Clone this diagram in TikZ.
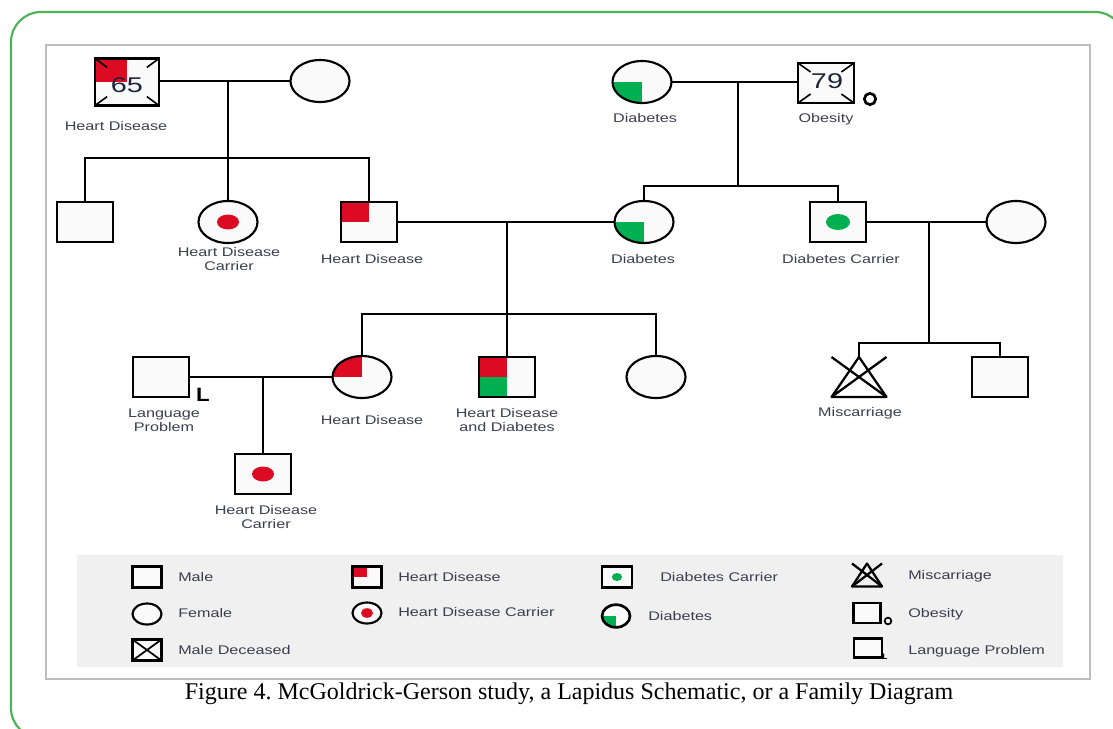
\documentclass[tikz,border=0pt]{standalone}
\usepackage{graphicx}
\usepackage{fontspec}
\setmainfont{Liberation Serif}
\newfontfamily\labsans{Liberation Sans}
\usetikzlibrary{shapes.geometric,calc}
\frenchspacing
\definecolor{hdred}{RGB}{220,10,35}
\definecolor{dbgreen}{RGB}{0,176,80}
\definecolor{labgray}{RGB}{58,62,78}
\definecolor{framegreen}{RGB}{76,178,88}
\definecolor{boxgray}{RGB}{190,190,190}
\definecolor{leggray}{RGB}{240,240,240}
\definecolor{shapefill}{RGB}{250,250,250}
\definecolor{numcol}{RGB}{30,35,60}
\newcommand{\lbl}[1]{\scalebox{1.29}[1]{\labsans\fontsize{9.4}{10.5}\selectfont\begin{tabular}{@{}c@{}}#1\end{tabular}}}
\newcommand{\numtext}[1]{\scalebox{1.35}[1]{\labsans\fontsize{16}{16}\selectfont #1}}
\begin{document}
\begin{tikzpicture}[x=0.75pt,y=-0.75pt,
  pline/.style={line width=1.7pt, black},
  male/.style={rectangle, draw, line width=1.6pt, fill=shapefill, minimum width=42pt, minimum height=30pt, inner sep=0pt, outer sep=0pt},
  female/.style={ellipse, draw, line width=1.6pt, fill=shapefill, minimum width=44.25pt, minimum height=31.5pt, inner sep=0pt, outer sep=0pt},
  lmale/.style={male, minimum width=21.75pt, minimum height=15.75pt},
  lfemale/.style={female, minimum width=21.75pt, minimum height=15.75pt},
  hd/.style={path picture={\fill[hdred] (path picture bounding box.north west) rectangle (path picture bounding box.center);}},
  db/.style={path picture={\fill[dbgreen] (path picture bounding box.south west) rectangle (path picture bounding box.center);}},
  hddb/.style={path picture={\fill[hdred] (path picture bounding box.north west) rectangle (path picture bounding box.center);
     \fill[dbgreen] (path picture bounding box.south west) rectangle (path picture bounding box.center);}},
  hdcar/.style 2 args={path picture={\fill[hdred] (path picture bounding box.center) ellipse [x radius=#1, y radius=#2];}},
  dbcar/.style 2 args={path picture={\fill[dbgreen] (path picture bounding box.center) ellipse [x radius=#1, y radius=#2];}},
  lab/.style={text=labgray, inner sep=0pt, align=center, yshift=-1.5pt},
  llab/.style={text=labgray, inner sep=0pt, anchor=west, yshift=-1.5pt},
  num/.style={text=numcol, inner sep=0pt},
  misc/.style={rectangle, inner sep=0pt, outer sep=0pt, minimum width=41.25pt, minimum height=30pt}
]
\useasboundingbox (0,0) rectangle (1113,728);
\clip (0,0) rectangle (1113,728);
% frames
\draw[framegreen, line width=1.6pt, rounded corners=22.5pt] (11,12) rectangle (1125,738);
\draw[boxgray, line width=0.8pt] (46,45) rectangle (1090,679);
\fill[leggray] (77,555) rectangle (1063,667);

% ---------- generation 1, left ----------
\node[male, hd, minimum width=48pt, minimum height=35.25pt] (gf) at (127,82) {};
\foreach \c in {north west,north east,south west,south east}
  \draw[line width=1.2pt] (gf.\c) -- ($(gf.\c)!0.38!(gf.center)$);
\node[num] (gfage) at (127,85) {\numtext{65}};
\node[female] (gm) at (320,81) {};
\node[lab] (lgf) at (116,126) {\lbl{Heart Disease}};
\draw[pline] (gf.east |- gm.west) -- (gm.west);
\coordinate (m1) at (228,81);
\coordinate (s1) at (228,158);

% ---------- generation 1, right ----------
\node[female, db] (gm2) at (642,82) {};
\node[male] (gf2) at (826,83) {};
\foreach \c in {north west,north east,south west,south east}
  \draw[line width=1.2pt] (gf2.\c) -- ($(gf2.\c)!0.45!(gf2.center)$);
\node[num] (gf2age) at (827,81) {\numtext{79}};
\node[circle, draw, line width=2pt, minimum size=8.5pt, inner sep=0pt] (obs) at (870,99) {};
\node[lab] (lgm2) at (645,118) {\lbl{Diabetes}};
\node[lab] (lgf2) at (826,118) {\lbl{Obesity}};
\draw[pline] (gm2.east) -- (gf2.west |- gm2.east);
\coordinate (m2) at (738,82);
\coordinate (s2) at (738,186);

% ---------- generation 2 ----------
\node[male] (a1) at (85,222) {};
\node[female, hdcar={8.25pt}{5.6pt}] (a2) at (228,222) {};
\node[male, hd] (a3) at (369,222) {};
\node[female, db] (a4) at (644,222) {};
\node[male, dbcar={9pt}{6pt}] (a5) at (838,222) {};
\node[female] (a6) at (1016,222) {};
\node[lab] (la2) at (229,259) {\lbl{Heart Disease\\Carrier}};
\node[lab] (la3) at (372,259) {\lbl{Heart Disease}};
\node[lab] (la4) at (643,259) {\lbl{Diabetes}};
\node[lab] (la5) at (841,259) {\lbl{Diabetes Carrier}};

\draw[pline] (m1) -- (a2.north);
\draw[pline] (a1.north) -- (a1.north |- s1) -- (a3.north |- s1) -- (a3.north);
\draw[pline] (m2) -- (s2);
\draw[pline] (a4.north) -- (a4.north |- s2) -- (a5.north |- s2) -- (a5.north);

\draw[pline] (a3.east) -- (a4.west);
\coordinate (m3) at (507,222);
\coordinate (s3) at (507,314);
\draw[pline] (a5.east) -- (a6.west);
\coordinate (m4) at (929,222);
\coordinate (s4) at (929,343);

% ---------- generation 3 ----------
\node[male] (b1) at (161,377) {};
\node[inner sep=0pt, font=\labsans\bfseries\fontsize{14.5}{14.5}\selectfont] (lpL) at (203,395) {\scalebox{1.15}[1]{L}};
\node[female, hd] (b2) at (362,377) {};
\node[male, hddb] (b3) at (507,377) {};
\node[female] (b4) at (656,377) {};
\node[misc] (b5) at (859,377) {};
\draw[pline, line join=round] (b5.south west) -- (b5.north) -- (b5.south east) -- cycle;
\draw[pline] (b5.north west) -- (b5.south east);
\draw[pline] (b5.north east) -- (b5.south west);
\node[male] (b6) at (1000,377) {};
\node[lab] (lb1) at (164,420) {\lbl{Language\\Problem}};
\node[lab] (lb2) at (372,420) {\lbl{Heart Disease}};
\node[lab] (lb3) at (507,420) {\lbl{Heart Disease\\and Diabetes}};
\node[lab] (lb5) at (860,412) {\lbl{Miscarriage}};

\draw[pline] (m3) -- (b3.north);
\draw[pline] (b2.north) -- (b2.north |- s3) -- (b4.north |- s3) -- (b4.north);
\draw[pline] (m4) -- (s4);
\draw[pline] (b5.north) -- (b5.north |- s4) -- (b6.north |- s4) -- (b6.north);

\draw[pline] (b1.east) -- (b2.west);
\coordinate (m5) at (263,377);

% ---------- generation 4 ----------
\node[male, hdcar={8.25pt}{5.6pt}] (c1) at (263,474) {};
\node[lab] (lc1) at (266,517) {\lbl{Heart Disease\\Carrier}};
\draw[pline] (m5) -- (c1.north);

% ---------- legend ----------
\node[lmale] (lm) at (147,577) {};
\node[llab] (tlm) at (178,577) {\lbl{Male}};
\node[lfemale] (lf) at (147,614) {};
\node[llab] (tlf) at (178,613) {\lbl{Female}};
\node[lmale] (ld) at (147,650) {};
\draw[line width=1.3pt] (ld.north west) -- (ld.south east);
\draw[line width=1.3pt] (ld.north east) -- (ld.south west);
\node[llab] (tld) at (178,650) {\lbl{Male Deceased}};

\node[lmale, hd] (lhd) at (367,577) {};
\node[llab] (tlhd) at (398,577) {\lbl{Heart Disease}};
\node[lfemale, hdcar={4.5pt}{3.6pt}] (lhc) at (367,613) {};
\node[llab] (tlhc) at (398,612) {\lbl{Heart Disease Carrier}};

\node[lmale, minimum width=23pt, dbcar={3.8pt}{3pt}] (ldc) at (617,577) {};
\node[llab] (tldc) at (660,577) {\lbl{Diabetes Carrier}};
\node[lfemale, db, line width=2pt, minimum width=21pt, minimum height=17pt] (ldb) at (616,616) {};
\node[llab] (tldb) at (648,616) {\lbl{Diabetes}};

\node[misc, minimum width=22.5pt, minimum height=17.25pt] (lmc) at (867,575) {};
\draw[pline, line join=round] (lmc.south west) -- (lmc.north) -- (lmc.south east) -- cycle;
\draw[pline] (lmc.north west) -- (lmc.south east);
\draw[pline] (lmc.north east) -- (lmc.south west);
\node[llab] (tlmc) at (908,575) {\lbl{Miscarriage}};
\node[lmale, minimum width=20.25pt, minimum height=15pt] (lob) at (867,613) {};
\node[circle, draw, line width=1.3pt, minimum size=5pt, inner sep=0pt] (lobc) at (888,621) {};
\node[llab] (tlob) at (908,613) {\lbl{Obesity}};
\node[lmale, minimum width=21pt, minimum height=14.25pt] (llp) at (868,648) {};
\node[inner sep=0pt, font=\labsans\bfseries\fontsize{6}{6}\selectfont] (llpL) at (885,657) {L};
\node[llab] (tllp) at (908,650) {\lbl{Language Problem}};

% ---------- caption ----------
\node[inner sep=0pt, font=\fontsize{18}{20}\selectfont] (cap) at (569,694) {Figure 4. McGoldrick-Gerson study, a Lapidus Schematic, or a Family Diagram};
\end{tikzpicture}
\end{document}
